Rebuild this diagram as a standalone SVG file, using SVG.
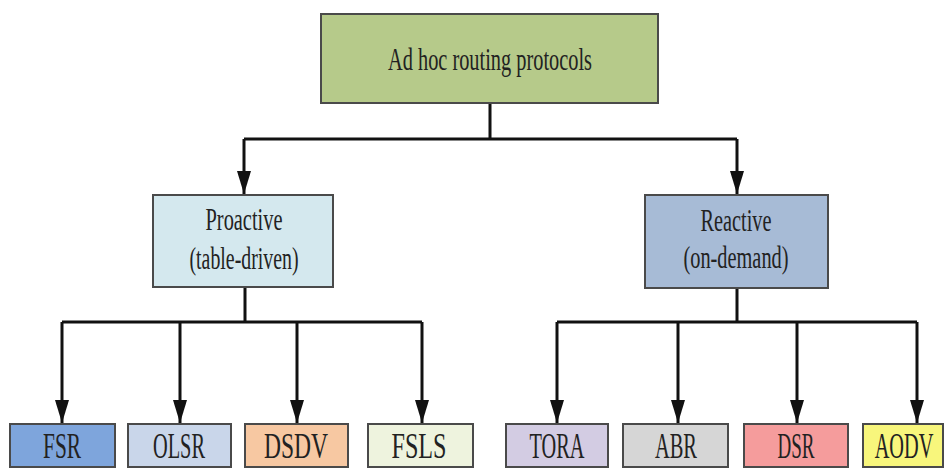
<svg xmlns="http://www.w3.org/2000/svg" width="944" height="468" viewBox="0 0 944 468">
<style>
.box{stroke:#4a4a4a;stroke-width:2}
.t{font-family:"Liberation Serif","Times New Roman",serif;fill:#222;text-anchor:middle}
.big{font-size:32px}
.mid{font-size:31px}
.leaf{font-size:35px}
.c{fill:none;stroke:#111;stroke-width:3}
</style>
<defs>
<marker id="ah" markerUnits="userSpaceOnUse" markerWidth="14" markerHeight="24" viewBox="0 0 14 24" refX="7" refY="23" orient="0">
<path d="M0,0 L14,0 L7,23 Z" fill="#111"/>
</marker>
</defs>
<rect width="944" height="468" fill="#fff"/>
<g id="connectors">
<path class="c" d="M490,103 V139 M244,139 H737"/>
<path class="c" d="M244,139 V194" marker-end="url(#ah)"/>
<path class="c" d="M737,139 V194" marker-end="url(#ah)"/>
<path class="c" d="M245,287 V322 M62,322 H422 M557,322 H917 M737,288 V322"/>
<path class="c" d="M62,322 V423" marker-end="url(#ah)"/>
<path class="c" d="M180,322 V423" marker-end="url(#ah)"/>
<path class="c" d="M297,322 V423" marker-end="url(#ah)"/>
<path class="c" d="M422,322 V423" marker-end="url(#ah)"/>
<path class="c" d="M557,322 V423" marker-end="url(#ah)"/>
<path class="c" d="M678,322 V423" marker-end="url(#ah)"/>
<path class="c" d="M797,322 V423" marker-end="url(#ah)"/>
<path class="c" d="M917,322 V423" marker-end="url(#ah)"/>
</g>
<g id="root">
<rect class="box" x="321" y="14" width="337" height="89" fill="#b6ca8a"/>
<text class="t big" x="490" y="70" textLength="204" lengthAdjust="spacingAndGlyphs">Ad hoc routing protocols</text>
</g>
<g id="proactive">
<rect class="box" x="153" y="195" width="180" height="92" fill="#d4e8ee"/>
<text class="t mid" x="244" y="230" textLength="77" lengthAdjust="spacingAndGlyphs">Proactive</text>
<text class="t mid" x="244" y="269" textLength="109" lengthAdjust="spacingAndGlyphs">(table-driven)</text>
</g>
<g id="reactive">
<rect class="box" x="645" y="195" width="183" height="93" fill="#a7bbd6"/>
<text class="t mid" x="736" y="231" textLength="71" lengthAdjust="spacingAndGlyphs">Reactive</text>
<text class="t mid" x="736" y="268" textLength="105" lengthAdjust="spacingAndGlyphs">(on-demand)</text>
</g>
<g id="fsr">
<rect class="box" x="10" y="424" width="105" height="43" fill="#7ea5dc"/>
<text class="t leaf" x="62" y="458" textLength="38" lengthAdjust="spacingAndGlyphs">FSR</text>
</g>
<g id="olsr">
<rect class="box" x="128" y="424" width="103" height="43" fill="#c9d6ea"/>
<text class="t leaf" x="179" y="458" textLength="52" lengthAdjust="spacingAndGlyphs">OLSR</text>
</g>
<g id="dsdv">
<rect class="box" x="245" y="424" width="103" height="43" fill="#f7c8a2"/>
<text class="t leaf" x="296" y="458" textLength="64" lengthAdjust="spacingAndGlyphs">DSDV</text>
</g>
<g id="fsls">
<rect class="box" x="368" y="424" width="105" height="43" fill="#eef3de"/>
<text class="t leaf" x="419" y="458" textLength="55" lengthAdjust="spacingAndGlyphs">FSLS</text>
</g>
<g id="tora">
<rect class="box" x="506" y="424" width="102" height="43" fill="#d3cce3"/>
<text class="t leaf" x="557" y="458" textLength="55" lengthAdjust="spacingAndGlyphs">TORA</text>
</g>
<g id="abr">
<rect class="box" x="623" y="424" width="105" height="43" fill="#d6d6d6"/>
<text class="t leaf" x="676" y="458" textLength="42" lengthAdjust="spacingAndGlyphs">ABR</text>
</g>
<g id="dsr">
<rect class="box" x="744" y="424" width="104" height="43" fill="#f59c9c"/>
<text class="t leaf" x="796" y="458" textLength="37" lengthAdjust="spacingAndGlyphs">DSR</text>
</g>
<g id="aodv">
<rect class="box" x="863" y="424" width="80" height="43" fill="#f8f67c"/>
<text class="t leaf" transform="translate(904,458) scale(0.58,1)" x="0" y="0">AODV</text>
</g>
</svg>
